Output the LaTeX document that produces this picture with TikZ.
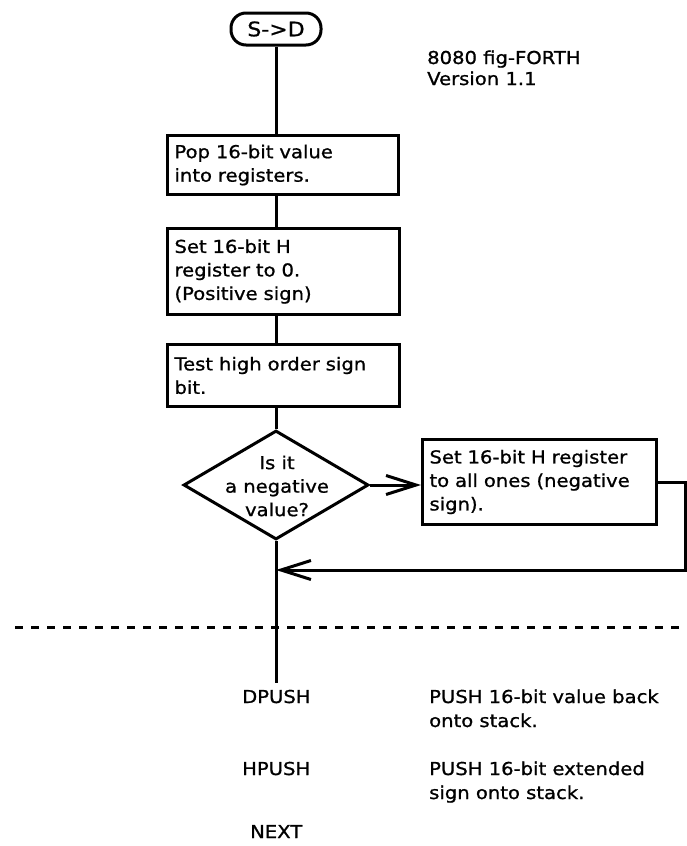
\documentclass[tikz,border=0pt]{standalone}
\usepackage{fontspec}
\setmainfont{DejaVu Sans}[FakeStretch=1.1,FakeBold=1]
\usetikzlibrary{arrows.meta,shapes.geometric}
\begin{document}
\begin{tikzpicture}[x=1pt,y=-1pt,
  every node/.style={font=\fontsize{17.8}{23.5}\selectfont},
  ln/.style={line width=3pt},
  stepbox/.style={draw, line width=3pt, anchor=north west, align=left,
    inner xsep=7pt, inner ysep=0pt},
  term/.style={draw, line width=3pt, rounded corners=15pt, minimum width=90pt,
    minimum height=32pt, inner sep=0pt, font=\fontsize{20}{24}\selectfont},
  lbl/.style={anchor=base west, inner sep=0pt},
  arr/.style={-{Straight Barb[length=30pt,width=19pt]}}
]
\useasboundingbox (0,0) rectangle (686,846);

\node[term] (start) at (276,29) {S->D};

\node[lbl] (hdr1) at (427,64) {8080 fig-FORTH};
\node[lbl] (hdr2) at (427,85) {Version 1.1};

\node[stepbox, text width=217pt, minimum height=59pt] (box1) at (166,134)
  {Pop 16-bit value\\into registers.};
\node[stepbox, text width=218pt, minimum height=86pt] (box2) at (166,227)
  {Set 16-bit H\\register to 0.\\(Positive sign)};
\node[stepbox, text width=218pt, minimum height=62pt] (box3) at (166,343)
  {Test high order sign\\bit.};

\node[diamond, draw, line width=3pt, minimum width=185pt, minimum height=109pt,
  inner sep=0pt] (dec) at (276,485) {};
\node[align=center, inner sep=0pt] (dectext) at (277,486) {Is it\\a negative\\value?};

\node[stepbox, text width=220pt, minimum height=85pt] (box4) at (421,438)
  {Set 16-bit H register\\to all ones (negative\\sign).};

\coordinate (join) at (276,570);
\coordinate (loopr) at (685,570);
\coordinate (vend) at (276,683);
\coordinate (dl) at (15,627);
\coordinate (dr) at (682,627);

\draw[ln] (start.south) -- (start.south |- box1.north);
\draw[ln] (start.south |- box1.south) -- (start.south |- box2.north);
\draw[ln] (start.south |- box2.south) -- (start.south |- box3.north);
\draw[ln] (start.south |- box3.south) -- (dec.north);
\draw[ln,arr] (dec.east) -- (dec.east -| box4.west);
\draw[ln,arr] (box4.east) -- (box4.east -| loopr) -- (loopr) -- (join);
\draw[ln] (dec.south) -- (vend);
\draw[line width=3pt, dash pattern=on 8pt off 8pt] (dl) -- (dr);

\node[lbl] (dpush) at (242,703) {DPUSH};
\node[lbl] (hpush) at (242,775) {HPUSH};
\node[lbl] (next) at (250,838) {NEXT};
\node[lbl] (d1a) at (429,703) {PUSH 16-bit value back};
\node[lbl] (d1b) at (429,727) {onto stack.};
\node[lbl] (d2a) at (429,775) {PUSH 16-bit extended};
\node[lbl] (d2b) at (429,799) {sign onto stack.};
\end{tikzpicture}
\end{document}
